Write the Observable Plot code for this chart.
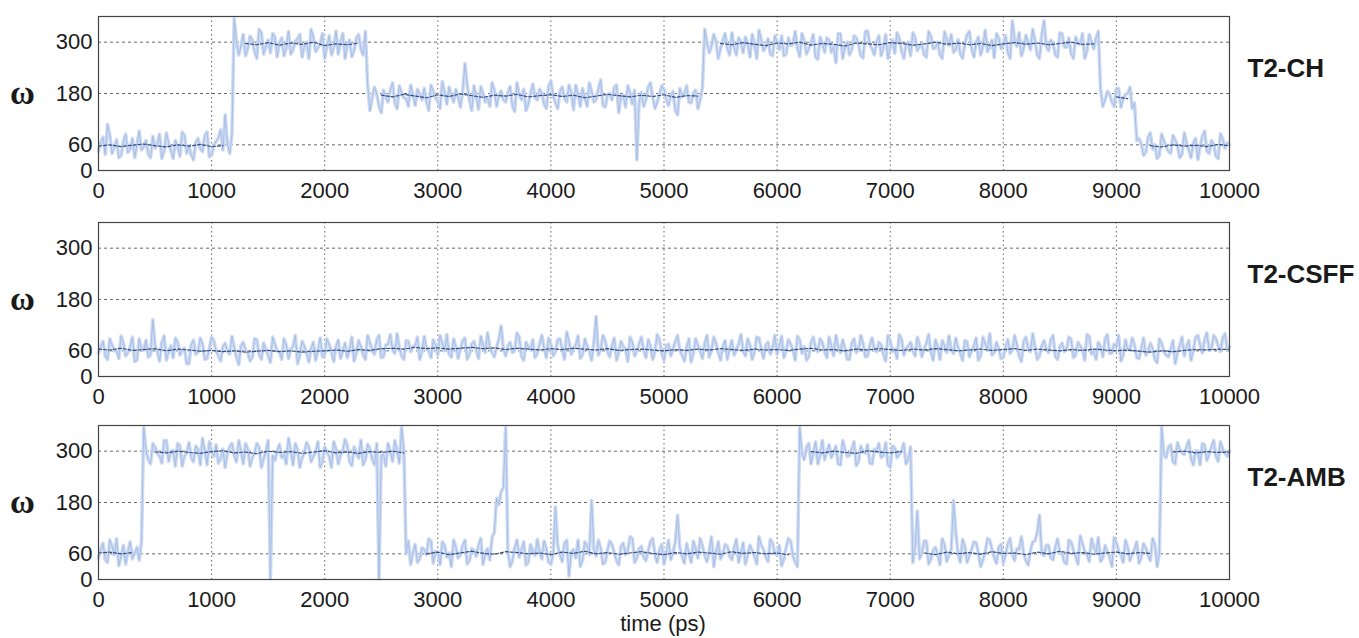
<!DOCTYPE html>
<html><head><meta charset="utf-8">
<script src="https://cdn.jsdelivr.net/npm/d3@7"></script>
<script src="https://cdn.jsdelivr.net/npm/@observablehq/plot@0.6"></script>
<style>
html,body{margin:0;padding:0;background:#fff;}
#wrap{position:relative;width:1359px;height:638px;overflow:hidden;font-family:"Liberation Sans",Arial,sans-serif;}
.panel{position:absolute;left:0;}
#xlabel{position:absolute;left:563px;width:200px;top:611px;text-align:center;font-size:22px;color:#1a1a1a;}
</style></head>
<body><div id="wrap"><div id="xlabel">time (ps)</div></div>
<script>
// ---- data (ω dihedral angle, degrees) ----
const panelNames = ["T2-CH", "T2-CSFF", "T2-AMB"];
const rawStep = 20;    // ps between raw samples (even / odd samples interleaved)
const meanStep = 100;  // ps between running-average samples
const yTicks = [0, 60, 180, 300];
const gridTicks = [60, 180, 300];
const xTicks = [0,1000,2000,3000,4000,5000,6000,7000,8000,9000,10000];

// samples at t = 0, 40, 80, ... 10000
const rawCH_even = [
 45,78,108,40,72,35,85,50,30,92,
 55,38,80,62,28,88,47,70,33,82,
 58,25,75,44,90,36,68,95,130,40,
 355,270,318,285,305,262,322,290,275,312,
 298,268,325,283,308,265,300,330,278,296,
 262,315,288,272,320,293,266,310,284,325,
 140,195,150,188,160,205,145,182,168,200,
 152,178,192,140,185,162,208,155,175,190,
 148,250,165,198,143,180,170,205,150,186,
 160,196,138,178,190,155,202,165,182,145,
 210,158,185,168,200,142,176,192,150,185,
 166,212,148,180,195,135,175,198,155,25,
 183,165,205,145,178,190,152,185,130,172,
 198,158,188,165,330,275,318,262,305,285,
 322,270,300,312,265,295,328,280,308,268,
 300,315,272,292,325,266,304,285,318,260,
 298,310,276,252,320,289,270,315,295,263,
 326,284,302,268,318,290,274,310,262,300,
 322,280,296,265,314,287,270,324,292,276,
 306,262,318,284,300,270,328,288,264,310,
 295,275,350,290,268,316,282,305,262,350,
 280,298,265,320,288,272,312,295,262,318,
 284,325,150,185,160,192,148,178,195,158,
 75,35,78,50,28,85,55,40,72,30,
 88,48,65,25,80,45,70,33,86,52,
 60];
// samples at t = 20, 60, 100, ... 9980
const rawCH_odd = [
 65,38,82,55,30,68,42,75,60,48,
 70,30,52,85,45,64,28,56,90,40,
 36,66,50,82,32,58,76,48,62,85,
 300,292,268,314,278,330,272,305,320,266,
 310,285,272,302,318,290,262,312,287,320,
 290,270,326,300,262,305,280,318,270,200,
 170,180,135,172,188,158,198,170,150,176,
 190,165,160,200,170,145,182,195,160,172,
 185,200,140,172,196,160,150,188,175,165,
 182,150,205,165,140,180,170,190,155,198,
 175,145,195,160,182,200,150,170,205,160,
 190,152,176,165,200,175,148,182,188,160,
 150,195,172,160,198,165,175,140,192,180,
 160,182,145,195,300,290,302,285,320,270,
 288,310,275,298,318,262,305,290,272,315,
 282,268,310,295,286,320,272,298,265,312,
 276,305,290,320,262,300,282,310,268,325,
 295,270,315,288,262,305,322,280,296,268,
 312,290,270,325,285,300,262,308,318,282,
 272,296,325,265,312,290,278,305,320,284,
 315,262,305,322,284,300,330,270,318,290,
 305,270,322,288,310,262,296,320,280,300,
 310,190,165,178,150,192,168,180,145,70,
 62,42,88,60,35,70,45,82,58,38,
 66,30,75,55,92,40,62,28,74,64];

const rawCSFF_even = [
 55,82,40,74,60,95,48,70,35,88,
 62,45,133,58,80,38,72,90,50,66,
 30,85,57,75,42,92,60,36,78,52,
 68,28,80,55,45,86,40,64,33,76,
 58,88,42,70,30,82,54,66,38,90,
 50,74,35,85,60,44,92,56,70,40,
 80,52,96,46,75,62,100,48,84,58,
 72,40,94,60,86,50,78,98,45,70,
 64,90,52,82,42,74,102,56,68,118,
 48,80,60,92,38,70,86,54,96,44,
 75,58,88,40,82,65,95,50,72,38,
 140,62,84,46,90,55,70,35,80,60,
 92,44,72,58,86,38,76,64,96,50,
 68,34,88,60,78,45,92,56,70,40,
 84,62,98,48,74,58,90,42,80,66,
 52,94,60,76,38,86,70,46,92,58,
 80,44,72,96,55,66,40,88,62,78,
 48,90,58,74,36,84,64,98,50,70,
 60,92,46,78,56,86,40,72,95,54,
 68,38,82,60,90,48,76,100,56,64,
 44,86,62,74,35,92,58,70,48,84,
 56,96,40,78,64,88,50,72,38,94,
 60,80,46,98,55,70,36,86,62,74,
 42,90,58,66,32,78,50,62,30,72,
 48,84,60,96,55,102,64,88,58,100,
 70];
const rawCSFF_odd = [
 70,48,88,60,42,78,56,92,38,65,
 85,50,72,36,95,58,44,80,62,30,
 74,52,90,40,66,84,48,70,58,94,
 45,72,62,36,88,52,78,48,92,60,
 40,74,64,96,50,72,34,80,60,46,
 88,56,70,42,78,64,36,84,50,96,
 60,86,44,74,98,54,68,40,82,70,
 92,58,66,44,72,96,60,52,88,42,
 84,40,76,60,94,56,70,46,88,64,
 72,56,102,46,80,62,44,76,66,90,
 48,86,64,104,52,74,42,88,60,80,
 50,96,58,72,38,82,64,92,48,76,
 62,86,40,98,54,72,48,82,60,36,
 88,54,74,42,96,62,78,38,84,66,
 50,76,58,88,40,92,64,74,52,96,
 72,44,86,62,94,54,38,80,66,88,
 58,92,48,70,86,40,78,56,96,46,
 74,62,80,52,96,58,42,88,66,80,
 48,74,64,98,38,70,84,56,62,90,
 54,84,46,72,38,92,62,50,80,42,
 70,54,96,48,82,64,100,40,72,62,
 86,46,70,58,92,44,80,62,98,52,
 40,70,88,54,76,96,50,64,90,44,
 66,50,78,40,88,58,46,84,56,92,
 70,38,92,74,86,62,96,72,90,64];

const rawAMB_even = [
 50,85,40,78,95,55,36,88,62,45,
 355,280,318,295,272,325,300,265,312,288,
 320,275,305,330,268,298,315,282,262,310,
 290,325,270,305,285,318,262,300,2,278,
 316,292,330,268,304,284,320,275,298,262,
 310,288,322,270,300,314,266,295,326,280,
 305,268,2,292,318,276,300,355,60,35,
 82,48,70,95,38,64,88,52,30,76,
 58,92,44,68,80,35,72,98,190,205,
 355,30,75,52,88,40,66,94,48,72,
 36,170,58,84,8,70,92,45,80,185,
 55,74,40,90,62,34,85,68,96,50,
 78,44,88,58,70,36,92,62,150,54,
 84,40,72,96,56,66,30,88,60,78,
 46,94,62,36,80,54,100,70,42,86,
 58,32,75,90,40,355,280,318,295,270,
 325,300,285,312,268,305,290,322,275,298,
 315,270,300,285,320,262,308,292,318,280,
 40,160,62,90,48,75,35,82,58,185,
 60,94,40,70,86,30,64,92,52,76,
 38,84,58,72,100,44,68,90,150,56,
 80,46,95,62,36,88,54,102,66,42,
 76,98,50,64,30,86,58,92,44,70,
 38,84,56,96,30,355,285,315,270,305,
 292,325,268,300,318,278,310,288,322,295,
 300];
const rawAMB_odd = [
 70,45,92,58,32,80,66,48,75,88,
 300,270,310,288,325,276,302,318,265,296,
 285,312,268,300,322,288,272,305,296,318,
 275,300,318,265,296,310,282,325,290,300,
 285,270,302,318,262,296,310,288,322,276,
 298,262,306,290,328,275,310,284,268,316,
 282,318,290,265,300,325,272,300,90,62,
 40,74,58,90,66,35,80,62,92,50,
 80,36,72,54,96,62,45,110,175,215,
 62,44,92,70,34,82,56,64,90,40,
 60,80,42,92,64,50,30,88,58,70,
 92,36,68,82,44,78,58,100,40,72,
 52,66,96,40,82,60,46,88,76,38,
 62,90,50,78,42,100,64,48,82,56,
 74,40,86,58,68,36,80,52,94,60,
 80,48,96,55,30,295,310,270,322,290,
 280,315,298,270,325,288,305,266,312,295,
 272,305,318,290,268,312,285,300,270,310,
 75,48,90,36,68,58,95,42,70,110,
 40,78,56,88,62,46,96,70,38,82,
 58,96,44,70,62,34,88,110,60,80,
 50,76,62,40,92,68,36,84,58,96,
 62,42,80,54,98,66,40,76,60,88,
 52,74,44,82,62,290,310,275,320,296,
 310,282,300,268,315,292,325,276,305,288];

// running average, every 100 ps (null = state change, line broken)
const meanCH = [
 57,60,56,59,62,58,55,60,57,61,56,58, null,
 297,294,299,293,298,295,300,292,296,294,298, null,
 176,172,178,174,170,177,173,179,175,171,176,174,178,172,175,177,173,176,170,174,178,175,172,176,173,177,171,175,174, null,
 297,294,299,295,292,298,296,300,293,297,295,291,298,296,294,299,297,293,296,300,295,298,294,297,292,296,299,295,298,294,297,300,295,296, null,
 172,168, null,
 58,55,60,57,59,56,61,58];
const meanCSFF = [
 64,62,66,61,63,65,60,64,62,59,
 61,58,60,57,59,61,58,60,57,59,
 60,62,59,63,61,65,66,64,68,65,
 67,64,66,68,65,67,63,66,64,62,
 65,63,66,64,62,65,61,63,64,62,
 60,63,61,64,62,65,63,61,64,62,
 63,61,64,66,62,63,60,64,62,65,
 63,61,64,62,65,63,60,62,64,61,
 63,65,61,64,62,60,63,61,64,62,
 60,62,59,57,60,58,61,63,62,64,
 63];
const meanAMB = [
 62,64,60,63, null,
 298,296,300,297,295,299,301,296,298,294,300,297,299,295,298,301,296,298,295,299,297,300,296, null,
 60,64,58,62,66,61,59,65,63,60,62,58,64,61,66,60,63,59,62,65,61,58,63,60,64,62,59,65,61,63,60,62,58, null,
 299,296,300,297,295,301,298,296,299, null,
 62,58,64,60,63,59,65,61,62,58,64,60,66,61,63,59,62,64,60,63,61, null,
 298,300,296,299,297,298];

const rawEven = [rawCH_even, rawCSFF_even, rawAMB_even];
const rawOdd = [rawCH_odd, rawCSFF_odd, rawAMB_odd];
const means = [meanCH, meanCSFF, meanAMB];

// ---- drawing ----
const wrap = document.getElementById("wrap");
const tops = [0, 206, 409];
const FONT = '"Liberation Sans", Arial, sans-serif';

function interleave(a, b) {
  const out = [];
  for (let i = 0; i < a.length; i++) { out.push(a[i]); if (i < b.length) out.push(b[i]); }
  return out;
}

panelNames.forEach((name, p) => {
  const raw = interleave(rawEven[p], rawOdd[p]).map((w, i) => ({t: i * rawStep, w}));
  const mean = means[p].map((w, i) => ({t: i * meanStep, w: w == null ? NaN : w}));
  const chart = Plot.plot({
    width: 1359,
    height: 205,
    marginLeft: 98,
    marginRight: 130,
    marginTop: 16,
    marginBottom: 35,
    style: {fontFamily: FONT, fontSize: "22px", color: "#1a1a1a", background: "transparent", overflow: "visible"},
    x: {domain: [0, 10000]},
    y: {domain: [0, 360]},
    marks: [
      Plot.gridX({ticks: xTicks.slice(1, -1), stroke: "#555", strokeOpacity: 0.9, strokeDasharray: "1.5,3"}),
      Plot.gridY({ticks: gridTicks, stroke: "#555", strokeOpacity: 0.9, strokeDasharray: "3,3"}),
      Plot.lineY(raw, {x: "t", y: "w", stroke: "#cfdbf2", strokeWidth: 3.6}),
      Plot.lineY(raw, {x: "t", y: "w", stroke: "#a6bfe6", strokeWidth: 1}),
      Plot.lineY(mean, {x: "t", y: "w", stroke: "#2f4c86", strokeWidth: 1.2, strokeDasharray: "3,2"}),
      Plot.frame({stroke: "#444", strokeWidth: 1.2}),
      Plot.axisX({ticks: xTicks, tickSize: 0, tickPadding: 12, tickFormat: d => String(d), fontSize: 22, label: null}),
      Plot.axisY({ticks: yTicks, tickSize: 0, tickPadding: 6, fontSize: 22, label: null}),
      Plot.text([name], {frameAnchor: "right", y: [237], text: d => d, dx: 18, textAnchor: "start", fontSize: 26, fontWeight: "bold"}),
      Plot.text(["ω"], {frameAnchor: "left", y: [180], text: d => d, dx: -76, textAnchor: "middle", fontSize: 34, fontWeight: "bold", fontFamily: '"Liberation Serif", "DejaVu Serif", serif'})
    ]
  });
  chart.classList.add("panel");
  chart.style.top = tops[p] + "px";
  wrap.appendChild(chart);
});
</script>
</body></html>
